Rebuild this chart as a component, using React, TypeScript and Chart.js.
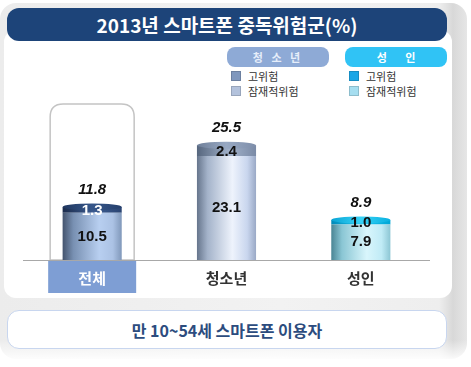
import React, { useEffect, useRef } from "react";
import { Chart, registerables } from "chart.js";

Chart.register(...registerables);

const categories = ["전체", "청소년", "성인"];
const highRisk = [1.3, 2.4, 1.0];
const latentRisk = [10.5, 23.1, 7.9];
const totals = [11.8, 25.5, 8.9];
const highLabelColors = ["#ffffff", "#111111", "#111111"];

const bottomStops: [number, string][][] = [
  [[0, "#44546e"], [0.18, "#7890b2"], [0.62, "#b8cff0"], [0.85, "#abc2e4"], [1, "#8098ba"]],
  [[0, "#66758c"], [0.18, "#a4b3ca"], [0.6, "#eef3fc"], [0.85, "#c9d6ee"], [1, "#9aa9c6"]],
  [[0, "#4a8594"], [0.18, "#8ac6d4"], [0.6, "#d9f6fc"], [0.85, "#c0ebf6"], [1, "#8cc6d4"]],
];
const topStops: [number, string][][] = [
  [[0, "#1b2c4c"], [0.55, "#3d5d92"], [1, "#2a4472"]],
  [[0, "#56667e"], [0.55, "#a2b2ca"], [1, "#7a8aa6"]],
  [[0, "#0089b8"], [0.5, "#22c8f0"], [1, "#00a6d6"]],
];
const capStops: [number, string][][] = [
  [[0, "#20375f"], [0.5, "#36568a"], [1, "#253f6c"]],
  [[0, "#6f7f99"], [0.5, "#98a9c3"], [1, "#7e8eaa"]],
  [[0, "#0aa4d4"], [0.5, "#36d2f6"], [1, "#0ab0e0"]],
];

const BAR_PCT = 0.44;

function makeGrad(chart: any, idx: number, stops: [number, string][]) {
  const xs = chart.scales && chart.scales.x;
  if (!xs || !chart.chartArea) return stops[1][1];
  const cx = xs.getPixelForValue(idx);
  const w = (xs.width / categories.length) * BAR_PCT;
  const g = chart.ctx.createLinearGradient(cx - w / 2, 0, cx + w / 2, 0);
  stops.forEach(([o, c]) => g.addColorStop(o, c));
  return g;
}

function roundRect(ctx: CanvasRenderingContext2D, x: number, y: number, w: number, h: number, r: number) {
  ctx.beginPath();
  ctx.moveTo(x + r, y);
  ctx.lineTo(x + w - r, y);
  ctx.quadraticCurveTo(x + w, y, x + w, y + r);
  ctx.lineTo(x + w, y + h);
  ctx.lineTo(x, y + h);
  ctx.lineTo(x, y + r);
  ctx.quadraticCurveTo(x, y, x + r, y);
  ctx.closePath();
}

const decoPlugin = {
  id: "deco",
  beforeDatasetsDraw(chart: any) {
    const ctx = chart.ctx as CanvasRenderingContext2D;
    const xs = chart.scales.x;
    const ys = chart.scales.y;
    const base = ys.getPixelForValue(0);
    const cx0 = xs.getPixelForValue(0);
    ctx.save();
    roundRect(ctx, cx0 - 42, 104, 84, base - 104, 13);
    ctx.strokeStyle = "#c4c4c4";
    ctx.lineWidth = 1.5;
    ctx.stroke();
    ctx.fillStyle = "#7e9ed4";
    ctx.fillRect(cx0 - 44, base, 88, 33);
    ctx.beginPath();
    ctx.moveTo(23, base + 0.5);
    ctx.lineTo(430, base + 0.5);
    ctx.strokeStyle = "#a8a8a8";
    ctx.lineWidth = 1;
    ctx.stroke();
    ctx.font = "bold 15px 'Noto Sans CJK KR', sans-serif";
    ctx.textAlign = "center";
    ctx.textBaseline = "middle";
    categories.forEach((c, i) => {
      ctx.fillStyle = i === 0 ? "#ffffff" : "#333333";
      ctx.fillText(c, xs.getPixelForValue(i), base + 18);
    });
    ctx.restore();
  },
  afterDatasetsDraw(chart: any) {
    const ctx = chart.ctx as CanvasRenderingContext2D;
    const metaBottom = chart.getDatasetMeta(0);
    const metaTop = chart.getDatasetMeta(1);
    ctx.save();
    metaTop.data.forEach((el: any, i: number) => {
      const w = el.width;
      const g = ctx.createLinearGradient(el.x - w / 2, 0, el.x + w / 2, 0);
      capStops[i].forEach(([o, c]) => g.addColorStop(o, c));
      ctx.beginPath();
      ctx.ellipse(el.x, el.y, w / 2, 3.5, 0, 0, Math.PI * 2);
      ctx.fillStyle = g;
      ctx.fill();
    });
    ctx.textAlign = "center";
    ctx.textBaseline = "middle";
    metaTop.data.forEach((el: any, i: number) => {
      ctx.font = "italic bold 15px 'Liberation Sans', Arial, sans-serif";
      ctx.fillStyle = "#111111";
      ctx.fillText(totals[i].toFixed(1), el.x, el.y - 17);
      ctx.font = "bold 15px 'Liberation Sans', Arial, sans-serif";
      ctx.fillStyle = highLabelColors[i];
      ctx.fillText(highRisk[i].toFixed(1), el.x, (el.y + el.base) / 2 + 1);
    });
    metaBottom.data.forEach((el: any, i: number) => {
      ctx.font = "bold 15px 'Liberation Sans', Arial, sans-serif";
      ctx.fillStyle = "#111111";
      ctx.fillText(latentRisk[i].toFixed(1), el.x, (el.y + el.base) / 2);
    });
    ctx.restore();
  },
};

function LegendItem({ x, y, color, text }: { x: number; y: number; color: string; text: string }) {
  return (
    <div style={{ position: "absolute", left: x, top: y, height: 14, display: "flex", alignItems: "center" }}>
      <div style={{ width: 8, height: 8, background: color, border: "0.5px solid rgba(0,0,0,0.15)" }} />
      <span style={{ marginLeft: 7, fontSize: 11, color: "#333", fontFamily: "'Noto Sans CJK KR', sans-serif", lineHeight: "14px" }}>{text}</span>
    </div>
  );
}

export default function App() {
  const ref = useRef<HTMLCanvasElement | null>(null);
  useEffect(() => {
    if (!ref.current) return;
    const chart = new Chart(ref.current, {
      type: "bar",
      data: {
        labels: categories,
        datasets: [
          {
            label: "잠재적위험",
            data: latentRisk,
            backgroundColor: (c: any) => makeGrad(c.chart, c.dataIndex, bottomStops[c.dataIndex] || bottomStops[0]),
            borderWidth: 0,
            barPercentage: BAR_PCT,
            categoryPercentage: 1,
          },
          {
            label: "고위험",
            data: highRisk,
            backgroundColor: (c: any) => makeGrad(c.chart, c.dataIndex, topStops[c.dataIndex] || topStops[0]),
            borderWidth: 0,
            barPercentage: BAR_PCT,
            categoryPercentage: 1,
          },
        ],
      },
      options: {
        animation: false,
        responsive: false,
        maintainAspectRatio: false,
        devicePixelRatio: 1,
        layout: { padding: { left: 25, right: 43, top: 80, bottom: 107 } },
        scales: {
          x: { stacked: true, display: false },
          y: { stacked: true, display: false, min: 0, max: 40 },
        },
        plugins: { legend: { display: false }, tooltip: { enabled: false } },
      },
      plugins: [decoPlugin],
    });
    return () => chart.destroy();
  }, []);

  const kr = "'Noto Sans CJK KR', sans-serif";
  return (
    <div style={{ position: "fixed", left: 0, top: 0, width: 471, height: 367, background: "#ffffff", overflow: "hidden" }}>
      <div
        style={{
          position: "absolute", left: 0, top: 3, width: 467, height: 356, borderRadius: 16,
          background: "linear-gradient(to right, #ececec 0%, #f2f2f2 60%, #eeeeee 94%, #d8d8d8 97%, #e6e6e6 100%)",
        }}
      />
      <div
        style={{
          position: "absolute", left: 0, top: 340, width: 471, height: 27,
          background: "linear-gradient(to bottom, rgba(255,255,255,0) 0%, #ffffff 80%)",
        }}
      />
      <div style={{ position: "absolute", left: 4, top: 30, width: 448, height: 268, borderRadius: 12, background: "#ffffff" }} />
      <div
        style={{
          position: "absolute", left: 7, top: 8, width: 440, height: 33, borderRadius: 12, background: "#1d4479",
          color: "#ffffff", fontFamily: kr, fontWeight: 700, fontSize: 19, display: "flex", alignItems: "center", justifyContent: "center",
        }}
      >
        2013년 스마트폰 중독위험군(%)
      </div>
      <div
        style={{
          position: "absolute", left: 227, top: 47, width: 102, height: 20, borderRadius: 8, background: "#8eaad6",
          color: "#e6eefa", fontFamily: kr, fontWeight: 700, fontSize: 11, display: "flex", alignItems: "center", justifyContent: "center",
          letterSpacing: 3,
        }}
      >
        청 소 년
      </div>
      <div
        style={{
          position: "absolute", left: 345, top: 47, width: 102, height: 20, borderRadius: 8, background: "#30c3f5",
          color: "#ffffff", fontFamily: kr, fontWeight: 700, fontSize: 11, display: "flex", alignItems: "center", justifyContent: "center",
          letterSpacing: 8, paddingLeft: 8, boxSizing: "border-box",
        }}
      >
        성 인
      </div>
      <LegendItem x={231} y={69} color="#7f97bd" text="고위험" />
      <LegendItem x={231} y={84} color="#b3c2dc" text="잠재적위험" />
      <LegendItem x={349} y={69} color="#1aa6e6" text="고위험" />
      <LegendItem x={349} y={84} color="#a6def0" text="잠재적위험" />
      <div
        style={{
          position: "absolute", left: 7, top: 310, width: 438, height: 37, borderRadius: 12, background: "#ffffff",
          border: "1.5px solid #c8d6ef", color: "#2c4c7e", fontFamily: kr, fontWeight: 700, fontSize: 16,
          display: "flex", alignItems: "center", justifyContent: "center",
        }}
      >
        만 10~54세 스마트폰 이용자
      </div>
      <canvas ref={ref} width={471} height={367} style={{ position: "absolute", left: 0, top: 0, width: 471, height: 367 }} />
    </div>
  );
}
